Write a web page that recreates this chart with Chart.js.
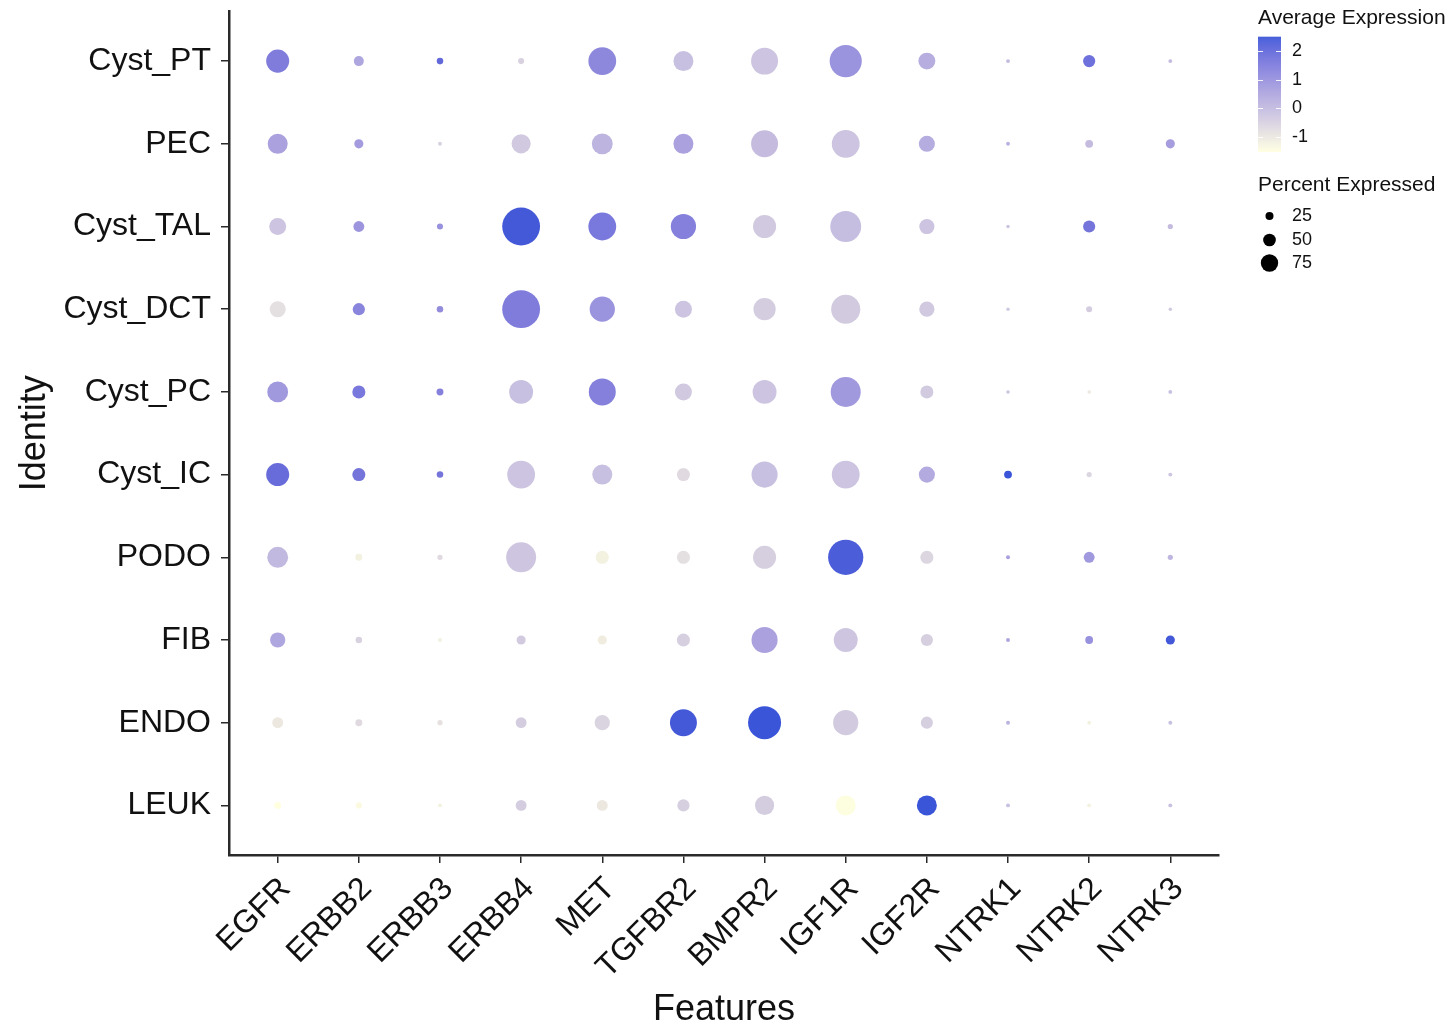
<!DOCTYPE html>
<html>
<head>
<meta charset="utf-8">
<script src="https://cdn.jsdelivr.net/npm/chart.js@4"></script>
<style>
  html, body { margin: 0; padding: 0; background: #ffffff; }
  #wrap { width: 1454px; height: 1027px; }
</style>
</head>
<body>
<div id="wrap"><canvas id="c" width="1454" height="1027"></canvas></div>
<script>
// ---------------- data ----------------
const features = ['EGFR','ERBB2','ERBB3','ERBB4','MET','TGFBR2','BMPR2','IGF1R','IGF2R','NTRK1','NTRK2','NTRK3'];
const identities = ['Cyst_PT','PEC','Cyst_TAL','Cyst_DCT','Cyst_PC','Cyst_IC','PODO','FIB','ENDO','LEUK'];

// percent expressed, one array per identity (same order as features)
const pctCystPT  = [53, 23, 15, 14, 64, 46, 62, 74, 39,  9, 28,  9];
const pctPEC     = [46, 21,  9, 44, 48, 46, 62, 64, 37,  9, 18, 21];
const pctCystTAL = [39, 25, 14, 87, 64, 58, 53, 71, 35,  8, 28, 12];
const pctCystDCT = [37, 28, 15, 87, 58, 39, 51, 67, 35,  8, 14,  8];
const pctCystPC  = [48, 30, 16, 55, 62, 39, 55, 69, 30,  8,  8,  9];
const pctCystIC  = [53, 30, 15, 64, 46, 30, 60, 64, 37, 18, 12,  9];
const pctPODO    = [48, 16, 12, 69, 30, 30, 53, 81, 30,  9, 25, 12];
const pctFIB     = [35, 15,  9, 21, 21, 30, 60, 55, 28,  9, 18, 21];
const pctENDO    = [25, 16, 12, 25, 35, 62, 76, 58, 28,  9,  9,  9];
const pctLEUK    = [16, 14,  9, 25, 25, 28, 44, 46, 46,  9,  9,  9];

// average expression (scaled), one array per identity
const expCystPT  = [ 1.5,  0.5,  2.0, -0.5,  1.2, -0.1, -0.2,  0.95,  0.3,  0.0,  1.8,  0.0];
const expPEC     = [ 0.6,  0.75,-0.5, -0.3,  0.15, 0.6,  0.0, -0.2,   0.35, 0.2,  0.0,  0.7];
const expCystTAL = [-0.2,  0.9,  1.0,  2.4,  1.6,  1.4, -0.3, -0.05, -0.2, -0.2,  1.7,  0.0];
const expCystDCT = [-0.8,  1.3,  1.1,  1.5,  0.95,-0.2, -0.4, -0.35, -0.3, -0.3, -0.4, -0.3];
const expCystPC  = [ 0.8,  1.6,  1.4, -0.1,  1.4, -0.3, -0.2,  0.8,  -0.35,-0.2, -1.0, -0.1];
const expCystIC  = [ 1.9,  1.7,  1.7, -0.2, -0.1, -0.7, -0.1, -0.2,   0.4,  2.5, -0.6, -0.2];
const expPODO    = [ 0.05,-1.2, -0.7, -0.25,-1.2, -0.8, -0.45, 2.3,  -0.6,  0.65, 0.8,  0.1];
const expFIB     = [ 0.5, -0.5, -1.2, -0.35,-1.1, -0.45, 0.6, -0.25, -0.45, 0.55, 1.0,  2.4];
const expENDO    = [-1.0, -0.7, -0.85,-0.4, -0.55, 2.4,  2.5, -0.35, -0.45, 0.2, -1.2, -0.1];
const expLEUK    = [-1.5, -1.4, -1.2, -0.4, -1.0, -0.45,-0.4, -1.45,  2.5, -0.1, -1.2, -0.1];

const pctRows = [pctCystPT, pctPEC, pctCystTAL, pctCystDCT, pctCystPC, pctCystIC, pctPODO, pctFIB, pctENDO, pctLEUK];
const expRows = [expCystPT, expPEC, expCystTAL, expCystDCT, expCystPC, expCystIC, expPODO, expFIB, expENDO, expLEUK];

const colorLimits = [-1.5, 2.5];
const colorTicks = [-1, 0, 1, 2];
const sizeBreaks = [25, 50, 75];
const lowColor = '#FFFFE0';
const highColor = '#3A55D8';

// ---------------- colour helpers (Lab interpolation like ggplot) ----------------
function hexToRgb(h){ h=h.replace('#',''); return [parseInt(h.substr(0,2),16),parseInt(h.substr(2,2),16),parseInt(h.substr(4,2),16)]; }
function srgbToLin(c){ c/=255; return c<=0.04045? c/12.92 : Math.pow((c+0.055)/1.055,2.4); }
function linToSrgb(c){ c = c<=0.0031308? 12.92*c : 1.055*Math.pow(c,1/2.4)-0.055; return Math.max(0,Math.min(255,Math.round(c*255))); }
function rgbToLab(rgb){
  const [r,g,b] = rgb.map(srgbToLin);
  let X = (0.4124*r+0.3576*g+0.1805*b)/0.95047;
  let Y = (0.2126*r+0.7152*g+0.0722*b);
  let Z = (0.0193*r+0.1192*g+0.9505*b)/1.08883;
  const f = t => t>0.008856? Math.cbrt(t) : (7.787*t+16/116);
  const fx=f(X), fy=f(Y), fz=f(Z);
  return [116*fy-16, 500*(fx-fy), 200*(fy-fz)];
}
function labToRgb(lab){
  const [L,a,b] = lab;
  const fy=(L+16)/116, fx=fy+a/500, fz=fy-b/200;
  const fi = t => t*t*t>0.008856? t*t*t : (t-16/116)/7.787;
  const X=fi(fx)*0.95047, Y=fi(fy), Z=fi(fz)*1.08883;
  const r= 3.2406*X-1.5372*Y-0.4986*Z;
  const g=-0.9689*X+1.8758*Y+0.0415*Z;
  const bb=0.0557*X-0.2040*Y+1.0570*Z;
  return [linToSrgb(r),linToSrgb(g),linToSrgb(bb)];
}
const labLow = rgbToLab(hexToRgb(lowColor));
const labHigh = rgbToLab(hexToRgb(highColor));
function expColor(v){
  let t = (v - colorLimits[0])/(colorLimits[1]-colorLimits[0]);
  t = Math.max(0, Math.min(1, t));
  const lab = labLow.map((c,i)=> c + (labHigh[i]-c)*t);
  const rgb = labToRgb(lab);
  return 'rgb('+rgb.join(',')+')';
}
// percent -> radius (px)
function pctRadius(p){ return p * 0.2174; }
function legendRadius(p){ return 1.7 + 0.093*p; }

// ---------------- build points ----------------
const points = [];
identities.forEach((id, i) => {
  features.forEach((f, j) => {
    points.push({ x: j+1, y: i+1, pct: pctRows[i][j], exp: expRows[i][j] });
  });
});

const FONT = "'Liberation Sans', Arial, Helvetica, sans-serif";
const TXT = '#111111';
const AXIS = '#2a2a2a';

// ---------------- legend plugin ----------------
const legendPlugin = {
  id: 'ggLegend',
  afterDraw(chart){
    const ctx = chart.ctx;
    ctx.save();
    const lx = 1258;
    ctx.fillStyle = TXT;
    ctx.textBaseline = 'middle';
    ctx.textAlign = 'left';
    ctx.font = '21px ' + FONT;
    ctx.fillText('Average Expression', lx, 18);
    // colour bar
    const barTop = 36.7, barBot = 151.3, barW = 23;
    const h = barBot - barTop;
    for (let k = 0; k < Math.ceil(h); k++){
      const v = colorLimits[1] - (k/h)*(colorLimits[1]-colorLimits[0]);
      ctx.fillStyle = expColor(v);
      ctx.fillRect(lx, barTop + k, barW, 1.2);
    }
    const vy = v => barTop + (colorLimits[1]-v)/(colorLimits[1]-colorLimits[0])*h;
    ctx.strokeStyle = 'rgba(255,255,255,0.9)';
    ctx.lineWidth = 1;
    ctx.font = '18px ' + FONT;
    colorTicks.forEach(t => {
      const y = Math.round(vy(t)) + 0.5;
      ctx.beginPath(); ctx.moveTo(lx, y); ctx.lineTo(lx+5, y); ctx.stroke();
      ctx.beginPath(); ctx.moveTo(lx+barW-5, y); ctx.lineTo(lx+barW, y); ctx.stroke();
      ctx.fillStyle = TXT;
      ctx.fillText(String(t), lx + 34, vy(t));
    });
    // size legend
    ctx.font = '21px ' + FONT;
    ctx.fillStyle = TXT;
    ctx.fillText('Percent Expressed', lx, 185);
    const rowY = [216, 240, 263];
    ctx.font = '18px ' + FONT;
    sizeBreaks.forEach((b, k) => {
      ctx.fillStyle = '#000';
      ctx.beginPath(); ctx.arc(1269.5, rowY[k], legendRadius(b), 0, Math.PI*2); ctx.fill();
      ctx.fillStyle = TXT;
      ctx.fillText(String(b), 1292, rowY[k]);
    });
    ctx.restore();
  }
};

const ctx = document.getElementById('c').getContext('2d');
new Chart(ctx, {
  type: 'scatter',
  data: {
    datasets: [{
      data: points,
      pointRadius: c => c.raw ? pctRadius(c.raw.pct) : 0,
      pointHoverRadius: c => c.raw ? pctRadius(c.raw.pct) : 0,
      pointBackgroundColor: c => c.raw ? expColor(c.raw.exp) : '#000',
      pointBorderWidth: 0,
      pointBorderColor: 'rgba(0,0,0,0)'
    }]
  },
  options: {
    responsive: false,
    animation: false,
    events: [],
    layout: { autoPadding: false, padding: { left: 11, right: 235, top: 11.5, bottom: 0 } },
    plugins: { legend: { display: false }, tooltip: { enabled: false } },
    scales: {
      x: {
        type: 'linear',
        min: 0.4, max: features.length + 0.6,
        afterBuildTicks: s => { s.ticks = features.map((_, j) => ({ value: j+1 })); },
        afterFit: s => { s.height = 172; s.paddingLeft = 0; s.paddingRight = 0; },
        ticks: {
          autoSkip: false, minRotation: 45, maxRotation: 45,
          padding: 7,
          labelOffset: 8,
          color: TXT,
          font: { family: FONT, size: 32 },
          callback: v => features[v-1]
        },
        grid: { drawOnChartArea: false, drawTicks: true, tickLength: 8, color: AXIS, lineWidth: 1.5 },
        border: { display: true, color: AXIS, width: 2.5 },
        title: { display: true, text: 'Features', color: TXT, font: { family: FONT, size: 36 }, padding: { top: 0, bottom: -5 } }
      },
      y: {
        type: 'linear',
        reverse: true,
        min: 0.4, max: identities.length + 0.6,
        afterBuildTicks: s => { s.ticks = identities.map((_, i) => ({ value: i+1 })); },
        afterFit: s => { s.width = 218; s.paddingTop = 0; s.paddingBottom = 0; },
        ticks: {
          autoSkip: false,
          padding: 10,
          color: TXT,
          font: { family: FONT, size: 32, lineHeight: 0.5 },
          callback: v => identities[v-1]
        },
        grid: { drawOnChartArea: false, drawTicks: true, tickLength: 8, color: AXIS, lineWidth: 1.5 },
        border: { display: true, color: AXIS, width: 2.5 },
        title: { display: true, text: 'Identity', color: TXT, font: { family: FONT, size: 36 }, padding: { top: 2, bottom: 0 } }
      }
    }
  },
  plugins: [legendPlugin]
});
</script>
</body>
</html>
